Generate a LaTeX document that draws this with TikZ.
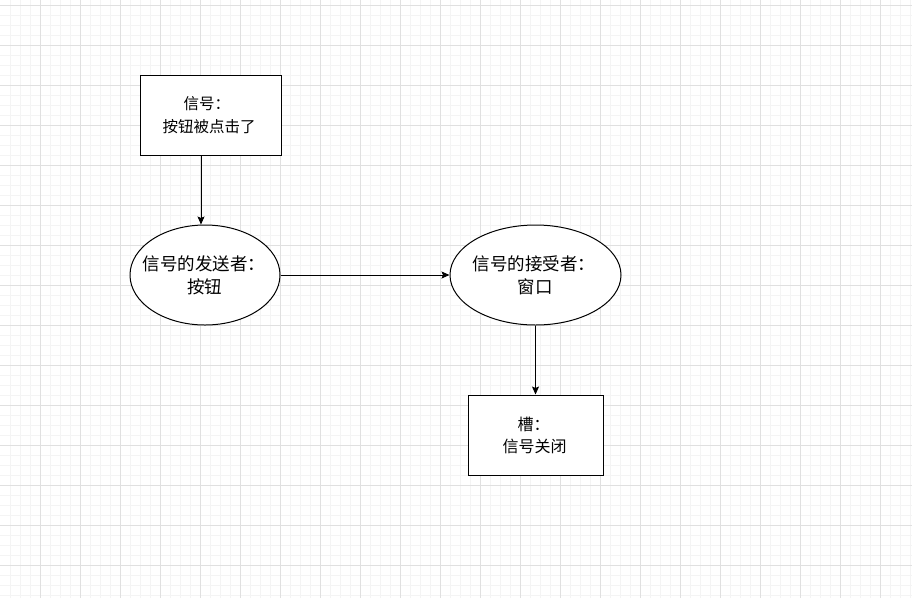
\documentclass[tikz,border=0pt]{standalone}
\usepackage{fontspec}
\setmainfont{Noto Sans CJK SC}
\usetikzlibrary{shapes.geometric,arrows.meta}
\definecolor{gridminor}{HTML}{F4F4F4}
\definecolor{gridmajor}{HTML}{E0E0E0}
\tikzset{
  boxshape/.style={draw=black,line width=1pt,rectangle,inner sep=0pt,fill=white},
  ellshape/.style={draw=black,line width=1pt,ellipse,inner sep=0pt,minimum height=100pt,fill=white},
  lblell/.style={inner sep=0pt,anchor=west,font=\fontsize{17.5}{20}\selectfont},
  lblbox/.style={inner sep=0pt,anchor=west,font=\fontsize{15.5}{18}\selectfont},
  lblslot/.style={inner sep=0pt,anchor=west,font=\fontsize{16}{19}\selectfont},
  arr/.style={draw=black,line width=1pt,-{Stealth[length=8pt,width=7pt,inset=1.5pt]}}
}
\begin{document}
\begin{tikzpicture}[x=1pt,y=-1pt]
\useasboundingbox (0,0) rectangle (912,598);
\fill[white] (0,0) rectangle (912,598);
% grid
\foreach \x in {10,20,...,910} \draw[gridminor,line width=1pt] (\x,0) -- (\x,598);
\foreach \y in {5,15,...,595} \draw[gridminor,line width=1pt] (0,\y) -- (912,\y);
\foreach \x in {40,80,...,880} \draw[gridmajor,line width=1pt] (\x,0) -- (\x,598);
\foreach \y in {5,45,...,565} \draw[gridmajor,line width=1pt] (0,\y) -- (912,\y);
% shapes
\node[boxshape,minimum width=141pt,minimum height=80pt] (b1) at (210.5,115) {};
\node[ellshape,minimum width=150pt] (e1) at (205,275) {};
\node[ellshape,minimum width=171pt] (e2) at (535.5,275) {};
\node[boxshape,minimum width=135pt,minimum height=80pt] (b2) at (535.5,435) {};
% labels
\node[lblbox] (b1a) at (183.5,104) {信号：};
\node[lblbox] (b1b) at (162.5,126.7) {按钮被点击了};
\node[lblell] (e1a) at (142.3,263.5) {信号的发送者：};
\node[lblell] (e1b) at (186.8,286.7) {按钮};
\node[lblell] (e2a) at (472.3,263.5) {信号的接受者：};
\node[lblell] (e2b) at (517.4,287.3) {窗口};
\node[lblslot] (b2a) at (517.5,424) {槽：};
\node[lblslot] (b2b) at (502.5,446) {信号关闭};
% connectors
\draw[arr] ([xshift=-9.5pt]b1.south) -- ([xshift=-9.5pt]b1.south |- e1.north);
\draw[arr] (e1.east) -- (e2.west);
\draw[arr] (e2.south) -- (b2.north);
\end{tikzpicture}
\end{document}
